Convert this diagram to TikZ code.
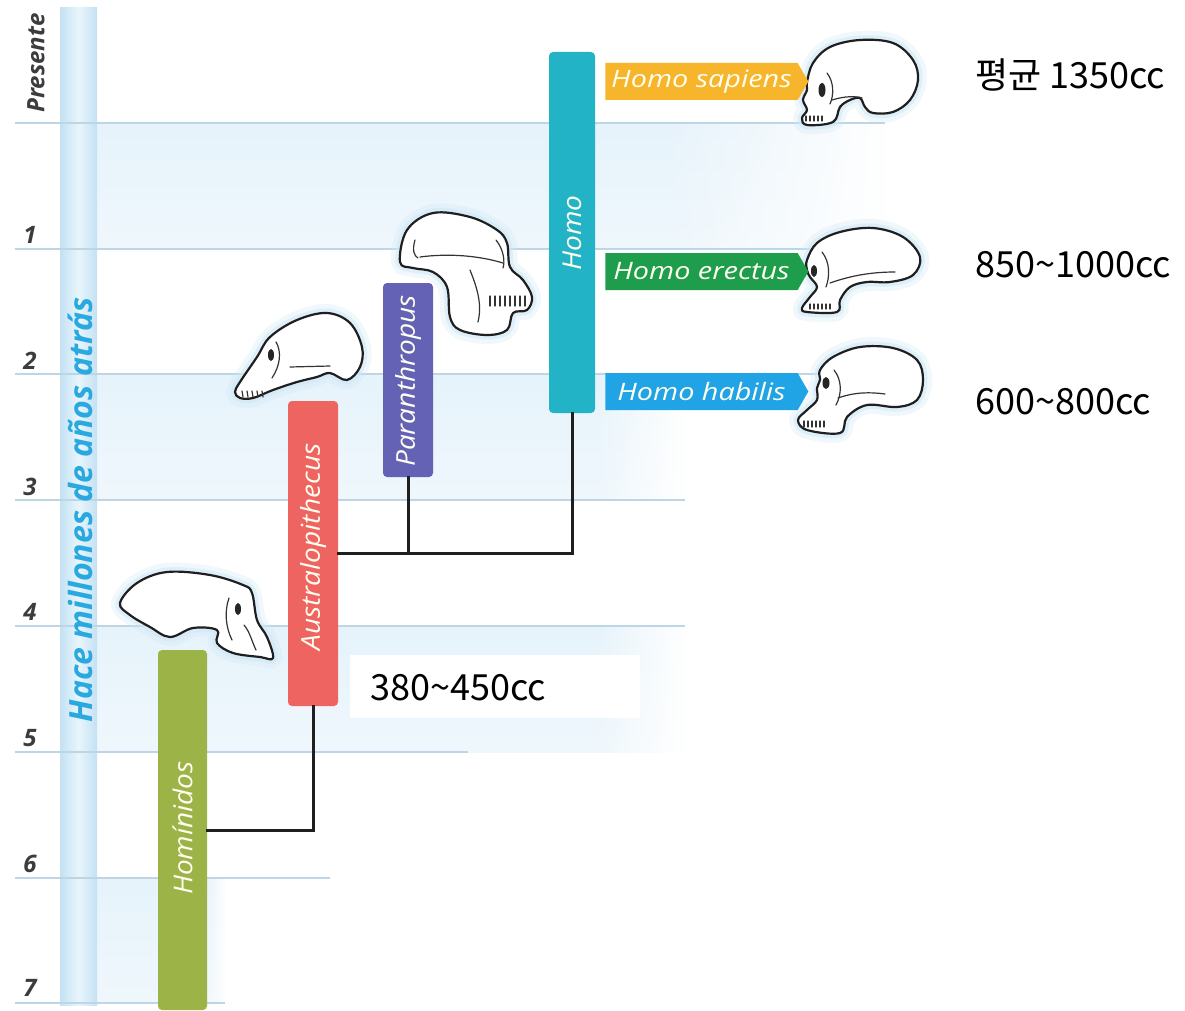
\documentclass[tikz,border=0pt]{standalone}
\usepackage{fontspec}
\setmainfont{Open Sans}
\newfontfamily\kr{Noto Sans CJK KR}
\usetikzlibrary{shapes.symbols,fadings}

\definecolor{axisblue}{HTML}{C4E1F3}
\definecolor{axismid}{HTML}{E8F5FC}
\definecolor{axistext}{HTML}{2AA8E0}
\definecolor{gridline}{HTML}{BCD6E5}
\definecolor{bandtop}{HTML}{E6F3FB}
\definecolor{bandbot}{HTML}{EFF7FC}
\definecolor{hominid}{HTML}{9BB347}
\definecolor{australo}{HTML}{EE6461}
\definecolor{paran}{HTML}{6462B5}
\definecolor{homo}{HTML}{22B4C6}
\definecolor{sapiens}{HTML}{F6B52A}
\definecolor{erectus}{HTML}{1E9E4C}
\definecolor{habilis}{HTML}{21A4E6}
\definecolor{ticktext}{HTML}{3C3C3C}
\definecolor{glow}{HTML}{CFE8F6}

% white that grows from clear (left) to solid (right)
\tikzfading[name=clearleft, left color=transparent!100, right color=transparent!0]

\tikzset{
  bar/.style={draw=none, rounded corners=4pt, inner sep=0pt},
  bartext/.style={text=white!94!yellow, rotate=90, inner sep=0pt,
    font=\itshape\fontsize{26}{26}\selectfont},
  tag/.style={signal, signal to=east, signal pointer angle=120, draw=none,
    minimum height=37pt, minimum width=203pt, inner sep=0pt, text=white!94!yellow,
    font=\itshape\fontsize{24}{24}\selectfont},
  conn/.style={line width=3pt, black!88, line cap=rect},
  gridrule/.style={line width=1.6pt, gridline},
  ticklabel/.style={text=ticktext, inner sep=0pt,
    font=\bfseries\itshape\fontsize{24}{24}\selectfont},
  cc/.style={font=\kr\fontsize{36}{36}\selectfont, anchor=west, inner sep=0pt, text=black},
  skullline/.style={fill=white, draw=black!88, line width=2.2pt, line join=round},
  detail/.style={draw=black!80, line width=1.2pt, line cap=round},
  glowwide/.style={draw=glow, line width=18pt, opacity=0.3, line join=round},
  glownarrow/.style={draw=glow, line width=9pt, opacity=0.55, line join=round},
}

% skull outline with a soft halo
\newcommand{\skulloutline}[1]{%
  \path[glowwide] plot[smooth cycle, tension=0.6] coordinates {#1};
  \path[glownarrow] plot[smooth cycle, tension=0.6] coordinates {#1};
  \path[skullline] plot[smooth cycle, tension=0.6] coordinates {#1};
}
% widened italic lettering used on bars and tags
\newcommand{\wide}[2]{\scalebox{#1}[1]{#2}}

\begin{document}
\begin{tikzpicture}[x=1pt, y=-1pt]
\useasboundingbox[fill=white] (0,0) rectangle (1185,1011);

% alternating tinted time bands, softened towards their right ends
\foreach \ya/\yb/\xr/\fw in {123/249/885/220, 374/500/685/90, 626/752/685/90, 878/1003/225/20}{
  \shade[top color=bandtop, bottom color=bandbot] (97,\ya) rectangle (\xr,\yb);
  \fill[white, path fading=clearleft] (\xr-\fw,\ya-1) rectangle (\xr+1,\yb+1);
}

% time axis bar
\shade[left color=axisblue, right color=axisblue, middle color=axismid]
  (60,8) rectangle (97,1005);

% grid rules
\foreach \y/\xr in {123/885, 249/885, 374/885, 500/685, 626/685,
                    752/468, 878/330, 1003/225}{
  \draw[gridrule] (15,\y) -- (\xr,\y);
}

% axis labels
\node[rotate=90, text=axistext, inner sep=0pt,
      font=\bfseries\itshape\fontsize{32}{32}\selectfont] (axislabel) at (80,510)
  {Hace millones de años atrás};
\node[ticklabel, rotate=90, font=\bfseries\itshape\fontsize{24}{24}\selectfont]
  (t0) at (36,63) {Presente};
\node[ticklabel] (t1) at (30,235) {1};
\node[ticklabel] (t2) at (30,361) {2};
\node[ticklabel] (t3) at (30,487) {3};
\node[ticklabel] (t4) at (30,612) {4};
\node[ticklabel] (t5) at (30,738) {5};
\node[ticklabel] (t6) at (30,864) {6};
\node[ticklabel] (t7) at (30,988) {7};

% genus bars
\node[bar, fill=hominid, minimum width=49pt, minimum height=360pt] (hom) at (182.5,830) {};
\node[bartext] (homt) at (182.5,828) {\wide{1.08}{Homínidos}};
\node[bar, fill=australo, minimum width=50pt, minimum height=305pt] (aus) at (313,553.5) {};
\node[bartext] (aust) at (313,547) {\wide{1.08}{Australopithecus}};
\node[bar, fill=paran, minimum width=50pt, minimum height=194pt] (par) at (408,380) {};
\node[bartext] (part) at (408,381) {\wide{1.08}{Paranthropus}};
\node[bar, fill=homo, minimum width=46pt, minimum height=361pt] (homo) at (572,232.5) {};
\node[bartext] (homot) at (572,233) {\wide{1.08}{Homo}};

% branching connectors
\draw[conn] (hom.east) -| (aus.south);
\draw[conn] (aus.east) -| (homo.south);
\draw[conn] (par.south) -- (par.south |- aus.east);

% early hominid skull
\skulloutline{(120,603) (137,583) (167,572) (210,575) (243,585) (252,593)
  (257,620) (267,637) (273,658) (260,657) (233,653) (217,643) (217,630)
  (193,628) (170,637) (150,627) (130,615)}
\fill[black!85] (238,609) ellipse (3pt and 6pt);
\draw[detail] (229,598) .. controls (224,612) and (226,628) .. (232,640);
\draw[detail] (244,625) .. controls (250,632) and (252,642) .. (256,650);

% Australopithecus skull
\skulloutline{(235,392) (240,382) (257,357) (270,337) (297,320) (327,313)
  (350,323) (362,347) (360,367) (347,380) (330,373) (317,377) (297,382)
  (273,390) (253,398) (240,398)}
\fill[black!85] (271,355) ellipse (3pt and 6pt);
\draw[detail] (276,342) .. controls (282,352) and (280,366) .. (272,378);
\draw[detail] (290,367) -- (330,366);
\foreach \xx in {242,247,...,262}{\draw[detail] (\xx,391) -- (\xx+1,397);}

% Paranthropus skull
\skulloutline{(400,262) (407,230) (433,213) (470,217) (497,230) (507,243)
  (510,267) (523,280) (532,297) (527,310) (513,313) (507,330) (487,335)
  (460,330) (450,317) (447,287) (433,272) (413,268)}
\draw[detail] (420,257) .. controls (450,253) and (480,256) .. (503,263);
\draw[detail] (415,240) .. controls (412,250) and (414,256) .. (418,258);
\draw[detail] (470,270) .. controls (478,290) and (482,305) .. (478,322);
\draw[detail] (496,240) .. controls (504,250) and (505,262) .. (503,268);
\foreach \xx in {490,495,...,525}{\draw[detail] (\xx,296) -- (\xx,306);}

% Homo sapiens skull
\skulloutline{(807,82) (813,63) (830,47) (860,40) (893,43) (913,60) (918,80)
  (910,100) (893,112) (873,113) (865,107) (860,98) (850,100) (840,107)
  (833,122) (807,125) (802,118) (807,110) (803,100) (807,90)}
\fill[black!85] (822,90) ellipse (3.5pt and 7pt);
\draw[detail] (827,73) .. controls (834,82) and (834,95) .. (830,104);
\draw[detail] (832,100) .. controls (845,96) and (855,96) .. (862,98);
\foreach \xx in {806,810,...,822}{\draw[detail] (\xx,116) -- (\xx,121);}

% Homo erectus skull
\skulloutline{(807,260) (817,243) (840,232) (873,228) (903,237) (920,257)
  (913,275) (890,282) (867,282) (850,287) (840,300) (837,312) (807,312)
  (802,308) (810,297) (817,287) (810,277) (807,270)}
\fill[black!85] (814,271) ellipse (3pt and 6pt);
\draw[detail] (822,252) .. controls (830,262) and (830,276) .. (826,287);
\draw[detail] (830,283) .. controls (850,276) and (870,272) .. (895,272);
\foreach \xx in {810,814,...,830}{\draw[detail] (\xx,304) -- (\xx,309);}

% Homo habilis skull
\skulloutline{(820,370) (833,357) (860,347) (893,348) (917,360) (923,380)
  (917,400) (897,407) (867,405) (847,417) (840,433) (807,430) (798,420)
  (807,410) (817,400) (817,388) (820,380)}
\fill[black!85] (826,383) ellipse (3.5pt and 6pt);
\draw[detail] (834,370) .. controls (842,380) and (842,394) .. (836,405);
\draw[detail] (838,398) .. controls (855,392) and (870,392) .. (885,394);
\foreach \xx in {804,808,...,824}{\draw[detail] (\xx,421) -- (\xx,427);}

% species tags
\node[tag, fill=sapiens] (sap) at (701.5,81.5) {\wide{1.2}{Homo sapiens}};
\node[tag, fill=erectus] (ere) at (701.5,271.5) {\wide{1.2}{Homo erectus}};
\node[tag, fill=habilis] (hab) at (701.5,391.5) {\wide{1.2}{Homo habilis}};

% cranial capacities
\fill[white] (350,655) rectangle (640,718);
\node[cc] (cc1) at (370,688) {380\textasciitilde450cc};
\node[cc] (cc2) at (975,75) {평균 1350cc};
\node[cc] (cc3) at (975,265) {850\textasciitilde1000cc};
\node[cc] (cc4) at (975,402) {600\textasciitilde800cc};
\end{tikzpicture}
\end{document}
